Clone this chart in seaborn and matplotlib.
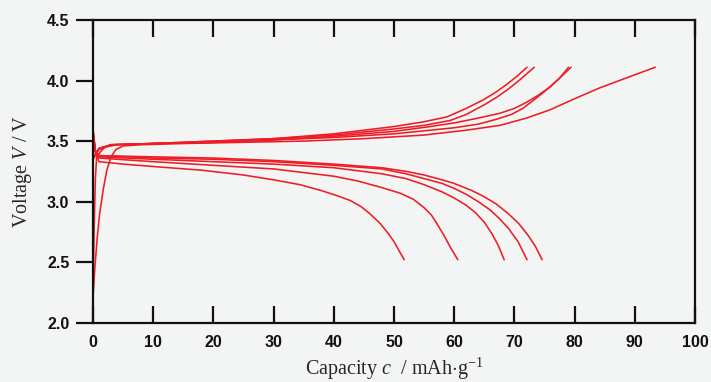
import numpy as np
import pandas as pd
import matplotlib
matplotlib.use("Agg")
import matplotlib.pyplot as plt
import seaborn as sns

# Charge curves (capacity in mAh/g, voltage in V)
ch1_c = [0, 0.3, 0.7, 1.1, 1.7, 2.3, 3.0, 3.8, 5, 8, 15, 25, 35, 45, 55, 62, 67.6, 72, 76, 80, 84.2, 88.5, 93.4]
ch1_v = [2.20, 2.45, 2.70, 2.90, 3.10, 3.26, 3.37, 3.43, 3.46, 3.47, 3.48, 3.49, 3.50, 3.52, 3.55, 3.59, 3.63, 3.69, 3.76, 3.85, 3.94, 4.02, 4.11]

ch2_c = [0, 0.2, 0.4, 0.6, 1.2, 2, 4, 10, 20, 30, 40, 50, 60, 64, 67, 69.5, 71.4, 73.5, 75.5, 77.5, 79.4]
ch2_v = [2.30, 2.80, 3.20, 3.36, 3.41, 3.45, 3.47, 3.48, 3.49, 3.51, 3.53, 3.56, 3.61, 3.64, 3.68, 3.72, 3.77, 3.85, 3.93, 4.02, 4.11]

ch3_c = [0, 1, 3, 10, 20, 30, 40, 50, 56, 60, 64, 67.6, 70, 72, 74, 76, 77.5, 79]
ch3_v = [3.35, 3.43, 3.47, 3.48, 3.49, 3.51, 3.54, 3.58, 3.62, 3.65, 3.69, 3.73, 3.77, 3.82, 3.88, 3.95, 4.02, 4.11]

ch4_c = [0, 1, 3, 10, 20, 30, 40, 50, 55, 59.3, 62, 65, 67, 69, 71, 73.3]
ch4_v = [3.35, 3.44, 3.47, 3.48, 3.50, 3.52, 3.55, 3.60, 3.63, 3.67, 3.72, 3.80, 3.86, 3.93, 4.01, 4.11]

ch5_c = [0, 1, 3, 10, 20, 30, 40, 50, 55, 58.8, 62, 64.8, 66.8, 68.5, 70.3, 72.1]
ch5_v = [3.36, 3.44, 3.47, 3.48, 3.50, 3.52, 3.56, 3.62, 3.66, 3.70, 3.77, 3.84, 3.90, 3.96, 4.03, 4.11]

# Discharge curves
dis1_c = [0, 0.4, 1, 5, 10, 18, 25, 30, 34.4, 38, 40.5, 42.7, 44.5, 46, 47.7, 49, 50, 51, 51.7]
dis1_v = [3.56, 3.40, 3.33, 3.31, 3.29, 3.26, 3.22, 3.18, 3.14, 3.09, 3.05, 3.01, 2.96, 2.90, 2.82, 2.74, 2.67, 2.58, 2.52]

dis2_c = [0, 0.4, 1, 10, 20, 30, 40, 44, 47.7, 51, 53.2, 55, 56.2, 57.1, 58.2, 59.4, 60.6]
dis2_v = [3.57, 3.41, 3.36, 3.33, 3.30, 3.27, 3.21, 3.17, 3.12, 3.07, 3.02, 2.95, 2.89, 2.82, 2.73, 2.62, 2.52]

dis3_c = [0, 0.4, 1, 10, 20, 30, 40, 48, 52, 55, 58, 60, 62, 63.5, 65, 66.2, 67.3, 68.3]
dis3_v = [3.58, 3.42, 3.37, 3.35, 3.33, 3.31, 3.28, 3.23, 3.19, 3.14, 3.08, 3.03, 2.97, 2.91, 2.83, 2.74, 2.64, 2.52]

dis4_c = [0, 0.4, 1, 10, 20, 30, 40, 48, 52, 55, 58, 60, 62, 64, 66, 67.5, 69, 70.6, 72.1]
dis4_v = [3.59, 3.42, 3.38, 3.36, 3.35, 3.33, 3.30, 3.27, 3.23, 3.19, 3.15, 3.11, 3.06, 3.00, 2.93, 2.86, 2.78, 2.67, 2.52]

dis5_c = [0, 0.4, 1, 10, 20, 30, 40, 48, 52, 55, 58, 60, 63, 65, 67, 69, 70.7, 72.3, 73.5, 74.6]
dis5_v = [3.60, 3.42, 3.38, 3.37, 3.36, 3.34, 3.31, 3.28, 3.25, 3.22, 3.18, 3.15, 3.09, 3.04, 2.98, 2.90, 2.82, 2.72, 2.63, 2.52]

curves = {
    "charge 1": (ch1_c, ch1_v), "charge 2": (ch2_c, ch2_v), "charge 3": (ch3_c, ch3_v),
    "charge 4": (ch4_c, ch4_v), "charge 5": (ch5_c, ch5_v),
    "discharge 1": (dis1_c, dis1_v), "discharge 2": (dis2_c, dis2_v),
    "discharge 3": (dis3_c, dis3_v), "discharge 4": (dis4_c, dis4_v),
    "discharge 5": (dis5_c, dis5_v),
}

x_ticks = [0, 10, 20, 30, 40, 50, 60, 70, 80, 90, 100]
y_ticks = [2.0, 2.5, 3.0, 3.5, 4.0, 4.5]

frames = []
for name, (c, v) in curves.items():
    frames.append(pd.DataFrame({"curve": name, "capacity": c, "voltage": v}))
df = pd.concat(frames, ignore_index=True)

sns.set_style("ticks")
plt.rcParams["mathtext.fontset"] = "custom"
plt.rcParams["mathtext.it"] = "Liberation Serif:italic"
plt.rcParams["mathtext.rm"] = "Liberation Serif"

bg = "#f3f5f5"
fig = plt.figure(figsize=(7.11, 3.82), dpi=100, facecolor=bg)
ax = fig.add_axes([0.1308, 0.1552, 0.8467, 0.7924], facecolor=bg)

for name, sub in df.groupby("curve", sort=False):
    sns.lineplot(data=sub, x="capacity", y="voltage", sort=False, ax=ax,
                 color="#ee1c25", linewidth=1.15, estimator=None)

ax.set_xlim(0, 100)
ax.set_ylim(2.0, 4.5)
ax.set_xticks(x_ticks)
ax.set_yticks(y_ticks)
ax.set_xticklabels([str(t) for t in x_ticks], fontfamily="Liberation Sans",
                   fontweight="bold", fontsize=11.5)
ax.set_yticklabels([f"{t:.1f}" for t in y_ticks], fontfamily="Liberation Sans",
                   fontweight="bold", fontsize=11.5)
ax.tick_params(axis="x", direction="in", length=12, width=1.6, top=True,
               bottom=True, pad=9, colors="#111111")
ax.tick_params(axis="y", direction="out", length=12, width=1.6, right=False,
               pad=5, colors="#111111")
for s in ax.spines.values():
    s.set_visible(True)
    s.set_linewidth(1.6)
    s.set_color("#111111")

ax.set_xlabel(r"Capacity $c$  / mAh$\cdot$g$^{\mathregular{-1}}$",
              fontfamily="Liberation Serif", fontsize=14.5, labelpad=4)
ax.set_ylabel(r"Voltage $V$ / V", fontfamily="Liberation Serif", fontsize=14.5,
              labelpad=9)

fig.savefig("out.png", dpi=100, facecolor=bg)
